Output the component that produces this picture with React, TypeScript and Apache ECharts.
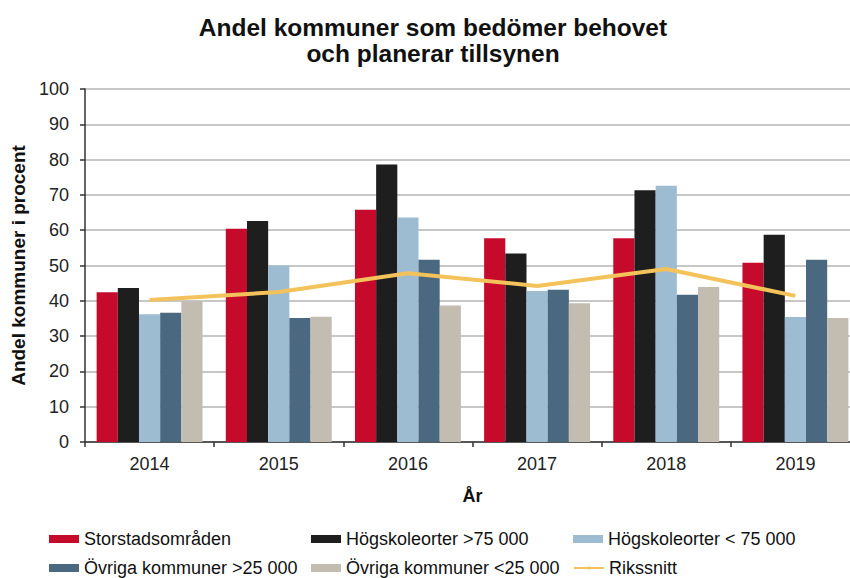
import React, { useEffect, useRef } from "react";
import * as echarts from "echarts";

const years = ["2014", "2015", "2016", "2017", "2018", "2019"];
const seriesNames = [
  "Storstadsområden",
  "Högskoleorter >75 000",
  "Högskoleorter < 75 000",
  "Övriga kommuner >25 000",
  "Övriga kommuner <25 000",
  "Rikssnitt",
];
const storstad = [42.4, 60.4, 65.8, 57.7, 57.7, 50.8];
const hogskoleStor = [43.6, 62.6, 78.6, 53.4, 71.3, 58.7];
const hogskoleLiten = [36.2, 50.0, 63.6, 42.8, 72.6, 35.4];
const ovrigaStor = [36.6, 35.1, 51.6, 43.1, 41.7, 51.6];
const ovrigaLiten = [39.9, 35.5, 38.7, 39.3, 43.9, 35.1];
const rikssnitt = [40.2, 42.5, 47.8, 44.2, 49.0, 41.4];

const colors = ["#c50a2b", "#1e1e1e", "#9dbcd2", "#4a6880", "#c2bcb1", "#f4c25a"];
const FONT = "'Liberation Sans', Arial, Helvetica, sans-serif";

export default function App() {
  const ref = useRef<HTMLDivElement>(null);
  useEffect(() => {
    if (!ref.current) return;
    const chart = echarts.init(ref.current, null, { renderer: "svg" });
    const barData = [storstad, hogskoleStor, hogskoleLiten, ovrigaStor, ovrigaLiten];
    const legendPos = [
      [49, 530],
      [311, 530],
      [573, 530],
      [49, 559],
      [311, 559],
      [573, 559],
    ];
    const option: any = {
      animation: false,
      backgroundColor: "#ffffff",
      title: {
        text: "Andel kommuner som bedömer behovet\noch planerar tillsynen",
        left: 433,
        top: 14,
        padding: 0,
        textAlign: "center",
        textStyle: {
          fontFamily: FONT,
          fontSize: 24.5,
          fontWeight: "bold",
          color: "#111",
          lineHeight: 26,
        },
      },
      legend: seriesNames.map((n, i) => ({
        data: [n],
        left: legendPos[i][0],
        top: legendPos[i][1],
        padding: 0,
        itemWidth: 30,
        itemHeight: i === 5 ? 4 : 8,
        icon: i === 5 ? undefined : "rect",
        selectedMode: false,
        textStyle: { fontFamily: FONT, fontSize: 18, color: "#111" },
      })),
      grid: {
        left: 85,
        right: -10,
        top: 89,
        bottom: 136,
        containLabel: false,
        outerBoundsMode: "none",
      },
      xAxis: {
        type: "category",
        data: years,
        name: "År",
        nameLocation: "middle",
        nameGap: 45,
        nameTextStyle: { fontFamily: FONT, fontSize: 18, fontWeight: "bold", color: "#111" },
        axisLine: { lineStyle: { color: "#333", width: 1.5 } },
        axisTick: { show: true, length: 5, lineStyle: { color: "#333", width: 1.5 } },
        axisLabel: { fontFamily: FONT, fontSize: 18, color: "#222", margin: 13 },
      },
      yAxis: {
        type: "value",
        min: 0,
        max: 100,
        interval: 10,
        name: "Andel kommuner i procent",
        nameLocation: "middle",
        nameGap: 57,
        nameTextStyle: { fontFamily: FONT, fontSize: 19, fontWeight: "bold", color: "#111" },
        axisLine: { show: true, lineStyle: { color: "#333", width: 1.5 } },
        axisTick: { show: true, length: 5, lineStyle: { color: "#333", width: 1.5 } },
        axisLabel: { fontFamily: FONT, fontSize: 18, color: "#222", margin: 16 },
        splitLine: { lineStyle: { color: "#b4b4b4", width: 1.5 } },
      },
      series: [
        ...barData.map((d, i) => ({
          type: "bar",
          name: seriesNames[i],
          data: d,
          barGap: "0%",
          barCategoryGap: "18%",
          itemStyle: { color: colors[i] },
        })),
        {
          type: "line",
          name: seriesNames[5],
          data: rikssnitt,
          symbol: "none",
          lineStyle: { color: colors[5], width: 4 },
          itemStyle: { color: colors[5] },
          z: 5,
        },
      ],
    };
    chart.setOption(option);
    return () => chart.dispose();
  }, []);
  return (
    <div
      ref={ref}
      style={{ position: "absolute", left: 0, top: 0, width: 850, height: 578 }}
    />
  );
}
